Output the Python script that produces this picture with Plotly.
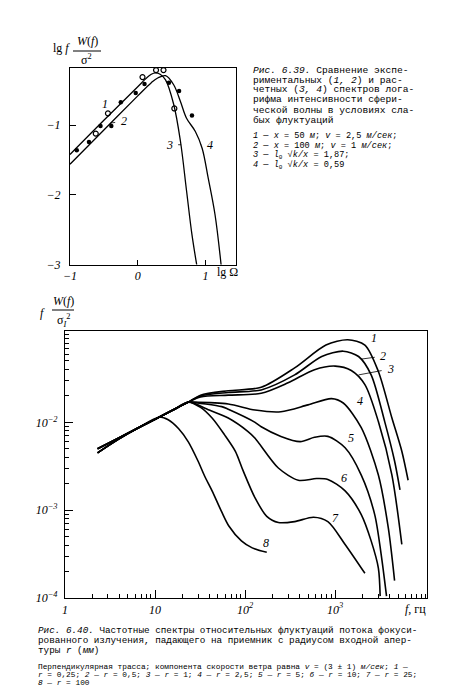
import plotly.graph_objects as go

# ---- Fig. 6.39 (top): lg of spectrum vs lg(Omega)
lg_omega_3 = [-1.0, -0.5, 0.0, 0.1, 0.2, 0.26, 0.33, 0.41, 0.53, 0.63, 0.72, 0.80, 0.87]
lg_spec_3 = [-1.42, -0.93, -0.45, -0.35, -0.27, -0.25, -0.27, -0.35, -0.70, -1.23, -1.94, -2.57, -3.0]
lg_omega_4 = [-1.0, -0.5, 0.0, 0.2, 0.3, 0.41, 0.53, 0.63, 0.72, 0.85, 0.95, 1.04, 1.14, 1.23]
lg_spec_4 = [-1.56, -1.07, -0.58, -0.39, -0.32, -0.29, -0.42, -0.66, -0.90, -1.09, -1.33, -1.76, -2.28, -3.0]
exp1_x = [-0.62, -0.44, 0.07, 0.27, 0.38, 0.54]
exp1_y = [-1.12, -0.83, -0.31, -0.21, -0.21, -0.76]
exp2_x = [-0.90, -0.72, -0.55, -0.39, -0.25, -0.03, 0.10, 0.46, 0.61, 0.80]
exp2_y = [-1.36, -1.24, -1.01, -1.01, -0.67, -0.54, -0.41, -0.39, -0.51, -0.86]

# ---- Fig. 6.40 (bottom): f*W(f)/sigma^2 vs f, Hz
trunk_f = [2.3, 3.9, 6.3, 11.2]
trunk_hi = [0.0050, 0.0066, 0.0085, 0.0115]
trunk_lo = [0.0045, 0.0064, 0.0085, 0.0115]
rise_f = [15.8, 23.4]
rise_s = [0.0138, 0.0170]

f1 = [32, 65, 151, 355, 790, 1380, 2140, 3020, 4270, 5500, 6460]
s1 = [0.0204, 0.0229, 0.0251, 0.0417, 0.0759, 0.0871, 0.0759, 0.0380, 0.0112, 0.00468, 0.00219]
f2 = [32, 65, 151, 355, 710, 1230, 1820, 2510, 3550, 4570, 5250]
s2 = [0.0200, 0.0219, 0.0234, 0.0347, 0.0562, 0.0646, 0.0562, 0.0347, 0.0102, 0.00363, 0.00170]
f3 = [32, 65, 151, 300, 590, 1000, 1510, 2140, 3020, 4270, 5500]
s3 = [0.0195, 0.0204, 0.0214, 0.0282, 0.0398, 0.0437, 0.0389, 0.0269, 0.0102, 0.00251, 0.000407]
f4 = [25, 65, 129, 250, 500, 910, 1230, 1950, 3020, 3890, 4570]
s4 = [0.0170, 0.0162, 0.0138, 0.0132, 0.0158, 0.0186, 0.0166, 0.00871, 0.00251, 0.000631, 0.000158]
f5 = [25, 55, 65, 129, 151, 250, 410, 590, 830, 1290, 1950, 2750, 3240, 3720]
s5 = [0.0170, 0.0151, 0.0141, 0.0100, 0.00891, 0.00692, 0.00603, 0.00676, 0.00692, 0.00513, 0.00251, 0.000891, 0.000316, 0.000105]
f6 = [25, 40, 65, 107, 129, 234, 390, 620, 830, 1290, 1950, 2510, 3020, 3160]
s6 = [0.0170, 0.0138, 0.0112, 0.0079, 0.0066, 0.00302, 0.00219, 0.00229, 0.00224, 0.00166, 0.000891, 0.000447, 0.000219, 0.000105]
f7 = [32, 43, 59, 78, 95, 129, 174, 234, 355, 575, 830, 1290, 2140]
s7 = [0.0148, 0.0112, 0.00724, 0.00468, 0.00282, 0.00138, 0.000851, 0.000724, 0.000741, 0.000832, 0.000741, 0.000407, 0.000191]
f8 = [14, 18.2, 23.4, 30, 35.5, 43, 55, 66, 91, 120, 174]
s8 = [0.0107, 0.0085, 0.0060, 0.00363, 0.00245, 0.00166, 0.000955, 0.000661, 0.000447, 0.000372, 0.000331]

serif = "Liberation Serif"
mono = "Liberation Mono"

fig = go.Figure()

line_top = dict(color="black", width=1.3)
fig.add_trace(go.Scatter(x=lg_omega_3, y=lg_spec_3, mode="lines", line=line_top,
                         line_shape="spline", xaxis="x", yaxis="y"))
fig.add_trace(go.Scatter(x=lg_omega_4, y=lg_spec_4, mode="lines", line=line_top,
                         line_shape="spline", xaxis="x", yaxis="y"))
fig.add_trace(go.Scatter(x=exp1_x, y=exp1_y, mode="markers", xaxis="x", yaxis="y",
                         marker=dict(symbol="circle-open", size=5, color="black", line=dict(width=1.2))))
fig.add_trace(go.Scatter(x=exp2_x, y=exp2_y, mode="markers", xaxis="x", yaxis="y",
                         marker=dict(symbol="circle", size=4.5, color="black")))

curves = [(f1, s1, True), (f2, s2, False), (f3, s3, True), (f4, s4, False),
          (f5, s5, True), (f6, s6, False), (f7, s7, True)]
for fx, sy, hi in curves:
    fig.add_trace(go.Scatter(x=trunk_f + rise_f + fx,
                             y=(trunk_hi if hi else trunk_lo) + rise_s + sy,
                             mode="lines", line=dict(color="black", width=1.6),
                             line_shape="spline", line_smoothing=0.8,
                             xaxis="x2", yaxis="y2"))
fig.add_trace(go.Scatter(x=trunk_f + f8, y=trunk_lo + s8, mode="lines",
                         line=dict(color="black", width=1.6), line_shape="spline",
                         line_smoothing=0.8, xaxis="x2", yaxis="y2"))

tickfont = dict(family=serif, size=12, color="black", style="italic")
axis_common = dict(showline=True, linecolor="black", linewidth=1.2, mirror=True,
                   showgrid=False, zeroline=False, ticks="inside", tickcolor="black",
                   tickfont=tickfont, automargin=False)

fig.update_layout(
    width=450, height=692, margin=dict(l=0, r=0, t=0, b=0, autoexpand=False),
    paper_bgcolor="white", plot_bgcolor="white", showlegend=False,
    xaxis=dict(domain=[62 / 450, 228 / 450], range=[-1, 1.45], anchor="y",
               tickvals=[-1, 0, 1], ticktext=["−1", "0", "1"], ticklen=5, **axis_common),
    yaxis=dict(domain=[1 - 256.7 / 692, 1 - 60 / 692], range=[-3, -0.18], anchor="x",
               tickvals=[-3, -2, -1], ticktext=["−3", "−2", "−1"], ticklen=6,
               ticklabelstandoff=6, **axis_common),
    xaxis2=dict(domain=[57 / 450, 419 / 450], type="log", range=[0, 4.02], anchor="y2",
                tickvals=[1, 10, 100, 1000], ticktext=["1", "10", "10<sup>2</sup>", "10<sup>3</sup>"],
                ticklen=8, minor=dict(ticks="inside", ticklen=4, tickcolor="black", dtick="D1"),
                **axis_common),
    yaxis2=dict(domain=[1 - 590 / 692, 1 - 323 / 692], type="log", range=[-4, -0.96], anchor="x2",
                tickvals=[1e-4, 1e-3, 1e-2],
                ticktext=["10<sup>−4</sup>", "10<sup>−3</sup>", "10<sup>−2</sup>"],
                ticklen=8, minor=dict(ticks="inside", ticklen=4, tickcolor="black", dtick="D1"),
                ticklabelstandoff=4, **axis_common),
)

anns = []


def paper_text(x, y, text, size=11, xanchor="left", family=serif):
    anns.append(dict(x=x / 450, y=1 - y / 692, xref="paper", yref="paper", text=text,
                     showarrow=False, xanchor=xanchor, yanchor="middle",
                     font=dict(family=family, size=size, color="black")))


# axis titles
paper_text(43, 40, "lg <i>f</i>", 12)
paper_text(79, 33, "<i>W</i>(<i>f</i>)", 12, "center")
paper_text(78, 51, "σ<sup>2</sup>", 12, "center")
paper_text(30, 305, "<i>f</i>", 12)
paper_text(55, 293, "<i>W</i>(<i>f</i>)", 12, "center")
paper_text(55, 312, "σ<sub><i>I</i></sub><sup>2</sup>", 12, "center")
paper_text(207, 264, "lg Ω", 12)
paper_text(395, 601, "<i>f</i>, гц", 12)

fig.add_shape(type="line", xref="paper", yref="paper", x0=65 / 450, x1=93 / 450,
              y0=1 - 43 / 692, y1=1 - 43 / 692, line=dict(color="black", width=1))
fig.add_shape(type="line", xref="paper", yref="paper", x0=44 / 450, x1=66 / 450,
              y0=1 - 302 / 692, y1=1 - 302 / 692, line=dict(color="black", width=1))

cap_top = ["<i>Рис. 6.39.</i> Сравнение экспе-",
           "риментальных (<i>1, 2</i>) и рас-",
           "четных (<i>3, 4</i>) спектров лога-",
           "рифма интенсивности сфери-",
           "ческой волны в условиях сла-",
           "бых флуктуаций"]
for i, t in enumerate(cap_top):
    paper_text(243, 62 + 10 * i, t, 9.6, family=mono)
cap_top2 = ["<i>1</i> — <i>x</i> = 50 <i>м</i>; <i>v</i> = 2,5 <i>м/сек</i>;",
            "<i>2</i> — <i>x</i> = 100 <i>м</i>; <i>v</i> = 1 <i>м/сек</i>;",
            "<i>3</i> — <i>l</i><sub>0</sub> √<i>k/x</i> = 1,87;",
            "<i>4</i> — <i>l</i><sub>0</sub> √<i>k/x</i> = 0,59"]
for i, t in enumerate(cap_top2):
    paper_text(243, 128 + 10 * i, t, 8.6, family=mono)

cap_bot = ["<i>Рис. 6.40.</i> Частотные спектры относительных флуктуаций потока фокуси-",
           "рованного излучения, падающего на приемник с радиусом входной апер-",
           "туры <i>r</i> (<i>мм</i>)"]
for i, t in enumerate(cap_bot):
    paper_text(28, 622.5 + 10 * i, t, 9.3, family=mono)
cap_bot2 = ["Перпендикулярная трасса; компонента скорости ветра равна <i>v</i> = (3 ± 1) <i>м/сек</i>; <i>1</i> —",
            "<i>r</i> = 0,25; <i>2</i> — <i>r</i> = 0,5; <i>3</i> — <i>r</i> = 1; <i>4</i> — <i>r</i> = 2,5; <i>5</i> — <i>r</i> = 5; <i>6</i> — <i>r</i> = 10; <i>7</i> — <i>r</i> = 25;",
            "<i>8</i> — <i>r</i> = 100"]
for i, t in enumerate(cap_bot2):
    paper_text(28, 659 + 8 * i, t, 7.8, family=mono)


def curve_label(x, y, text, xref, yref, ax=0, ay=0, arrow=False):
    anns.append(dict(x=x, y=y, xref=xref, yref=yref, text="<i>%s</i>" % text,
                     showarrow=arrow, ax=ax, ay=ay, arrowhead=0, arrowwidth=0.8,
                     arrowcolor="black", standoff=0, startstandoff=4,
                     font=dict(family=serif, size=12, color="black")))


# bottom curve labels (log10 coordinates)
curve_label(3.43, -1.04, "1", "x2", "y2")
curve_label(3.29, -1.28, "2", "x2", "y2", ax=22, ay=-3, arrow=True)
curve_label(3.26, -1.46, "3", "x2", "y2", ax=32, ay=-6, arrow=True)
curve_label(3.28, -1.76, "4", "x2", "y2")
curve_label(3.18, -2.18, "5", "x2", "y2")
curve_label(3.10, -2.63, "6", "x2", "y2")
curve_label(3.00, -3.09, "7", "x2", "y2")
curve_label(2.23, -3.37, "8", "x2", "y2")

# top curve labels
curve_label(-0.44, -0.88, "1", "x", "y", ax=-3, ay=-13, arrow=True)
curve_label(-0.40, -0.97, "2", "x", "y", ax=13, ay=-2, arrow=True)
curve_label(0.64, -1.28, "3", "x", "y", ax=-12, ay=0, arrow=True)
curve_label(0.93, -1.28, "4", "x", "y", ax=9, ay=0, arrow=True)

fig.update_layout(annotations=anns)

fig.write_html("out.html")
